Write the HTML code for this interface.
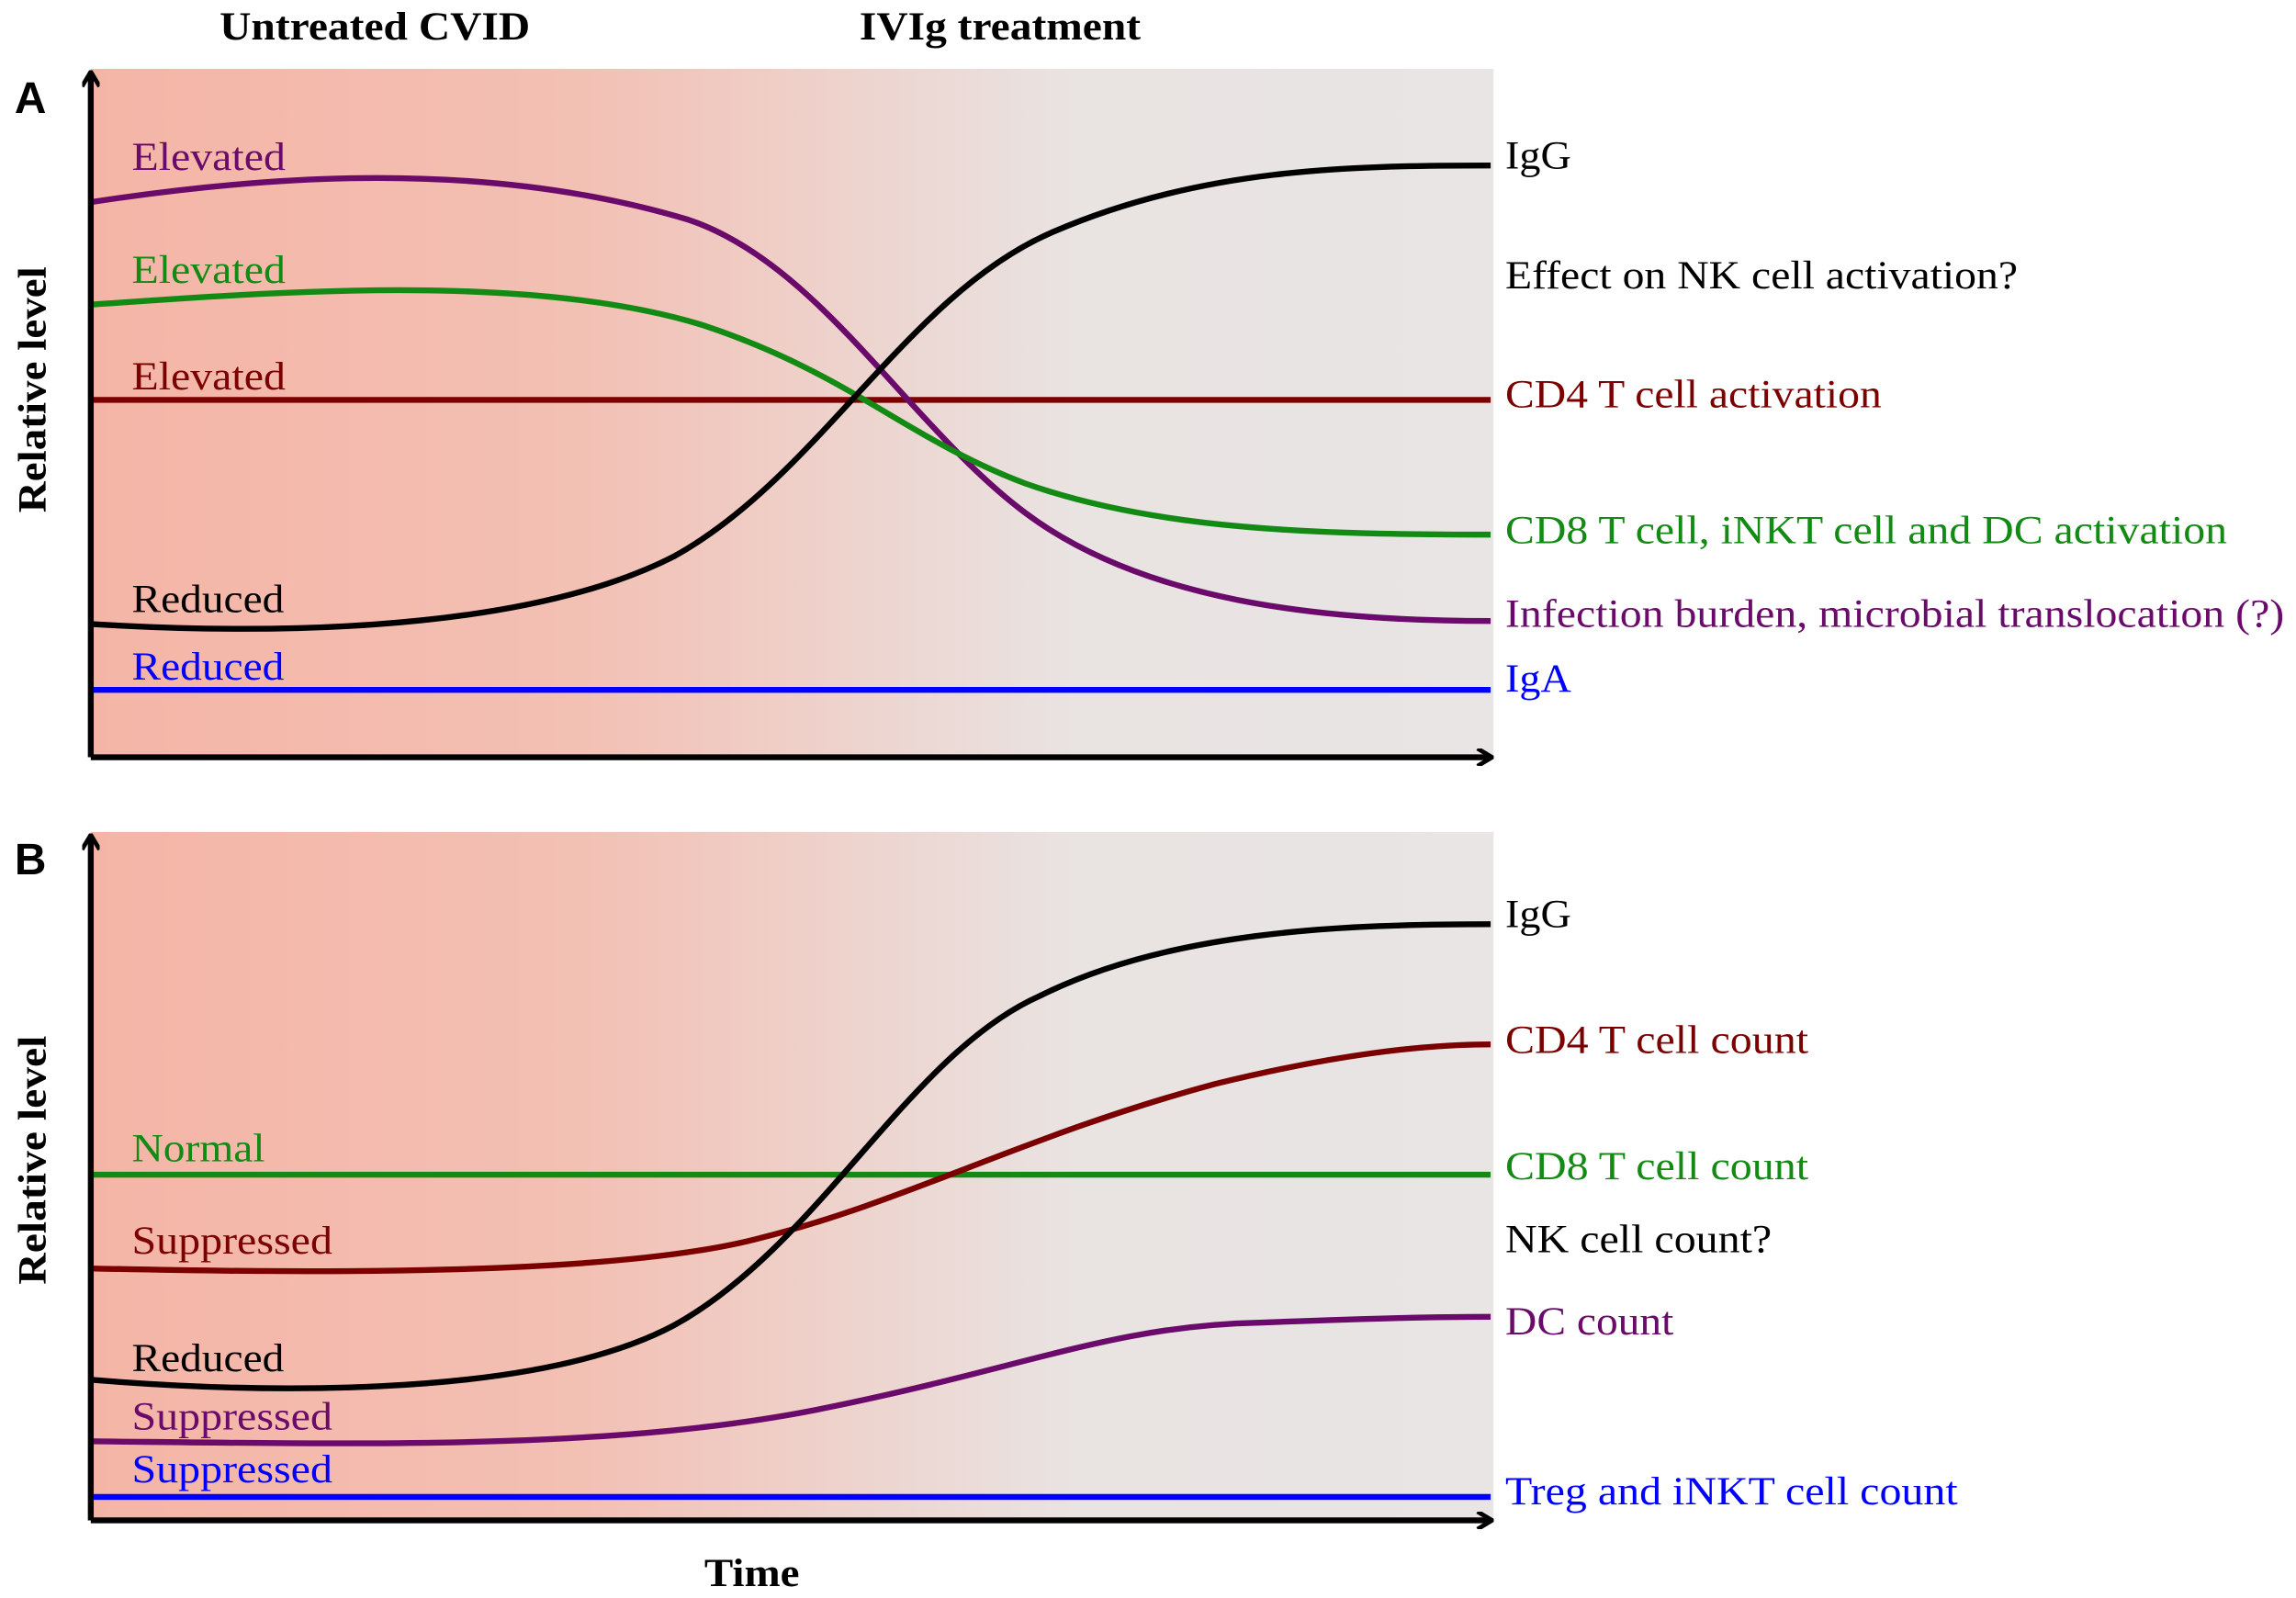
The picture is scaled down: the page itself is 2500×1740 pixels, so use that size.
<!DOCTYPE html>
<html><head><meta charset="utf-8"><style>
html,body{margin:0;padding:0;background:#fff;}
svg{display:block;}
text{font-family:"Liberation Serif",serif;font-size:27px;}
</style></head><body>
<svg width="2500" height="1740" viewBox="0 0 1568 1091" preserveAspectRatio="none" xmlns="http://www.w3.org/2000/svg">
<defs>
<linearGradient id="g" x1="62" x2="1020" y1="0" y2="0" gradientUnits="userSpaceOnUse">
<stop offset="0" stop-color="#f4b5a6"/>
<stop offset="0.35" stop-color="#f3c0b4"/>
<stop offset="0.7" stop-color="#e9e3e2"/>
<stop offset="1" stop-color="#e8e5e4"/>
</linearGradient>
<marker id="ar" markerWidth="12" markerHeight="12" refX="10" refY="6" orient="auto" markerUnits="userSpaceOnUse" viewBox="0 0 12 12">
<path d="M1,0 L11,6 L1,12" fill="none" stroke="#000" stroke-width="3"/>
</marker>
</defs>
<rect width="1568" height="1091" fill="#fff"/>
<rect x="62" y="47" width="958" height="470" fill="url(#g)"/>
<rect x="62" y="568" width="958" height="470" fill="url(#g)"/>

<g lengthAdjust="spacingAndGlyphs">
<text x="150" y="27" font-weight="bold" textLength="212" lengthAdjust="spacingAndGlyphs">Untreated CVID</text>
<text x="587" y="27" font-weight="bold" textLength="192" lengthAdjust="spacingAndGlyphs">IVIg treatment</text>
<text x="481" y="1083" font-weight="bold" textLength="65" lengthAdjust="spacingAndGlyphs">Time</text>
</g>
<text x="10" y="77" style="font-family:'Liberation Sans',sans-serif;font-weight:bold;font-size:30px">A</text>
<text x="10" y="597" style="font-family:'Liberation Sans',sans-serif;font-weight:bold;font-size:30px">B</text>
<text transform="translate(31,350) rotate(-90)" font-weight="bold" textLength="168" lengthAdjust="spacingAndGlyphs">Relative level</text>
<text transform="translate(31,877) rotate(-90)" font-weight="bold" textLength="170" lengthAdjust="spacingAndGlyphs">Relative level</text>

<g fill="none" stroke-width="4">
<path d="M62,273 H1018" stroke="#7b0000"/>
<path d="M62,471 H1018" stroke="#0000ff"/>
<path d="M62,138 C180,120 330,108 470,150 C560,180 620,290 700,350 C780,410 900,424 1018,424" stroke="#6a0a6a"/>
<path d="M62,208 C180,200 360,185 480,222 C580,255 620,300 700,330 C790,362 900,365 1018,365" stroke="#138a13"/>
<path d="M62,426 C160,432 350,436 460,380 C560,325 620,200 720,158 C820,115 920,113 1018,113" stroke="#000"/>
<path d="M62,802 H1018" stroke="#138a13"/>
<path d="M62,1022 H1018" stroke="#0000ff"/>
<path d="M62,984 C250,986 420,990 560,962 C700,934 760,905 860,903 C940,900 980,899 1018,899" stroke="#6a0a6a"/>
<path d="M62,866 C200,869 420,872 520,845 C620,820 700,775 830,740 C920,718 980,713 1018,713" stroke="#7b0000"/>
<path d="M62,942 C160,950 360,958 460,905 C560,850 620,720 710,680 C800,635 920,631 1018,631" stroke="#000"/>
</g>

<g stroke="#000" stroke-width="4" fill="none">
<path d="M62,517 V50" marker-end="url(#ar)"/>
<path d="M62,517 H1018" marker-end="url(#ar)"/>
<path d="M62,1038 V571" marker-end="url(#ar)"/>
<path d="M62,1038 H1018" marker-end="url(#ar)"/>
</g>

<text x="90" y="116" fill="#6a0a6a" textLength="105" lengthAdjust="spacingAndGlyphs">Elevated</text>
<text x="90" y="193" fill="#138a13" textLength="105" lengthAdjust="spacingAndGlyphs">Elevated</text>
<text x="90" y="266" fill="#7b0000" textLength="105" lengthAdjust="spacingAndGlyphs">Elevated</text>
<text x="90" y="418" fill="#000" textLength="104" lengthAdjust="spacingAndGlyphs">Reduced</text>
<text x="90" y="464" fill="#0000ff" textLength="104" lengthAdjust="spacingAndGlyphs">Reduced</text>
<text x="1028" y="115" fill="#000" textLength="45" lengthAdjust="spacingAndGlyphs">IgG</text>
<text x="1028" y="197" fill="#000" textLength="350" lengthAdjust="spacingAndGlyphs">Effect on NK cell activation?</text>
<text x="1028" y="278" fill="#7b0000" textLength="257" lengthAdjust="spacingAndGlyphs">CD4 T cell activation</text>
<text x="1028" y="371" fill="#138a13" textLength="493" lengthAdjust="spacingAndGlyphs">CD8 T cell, iNKT cell and DC activation</text>
<text x="1028" y="428" fill="#6a0a6a" textLength="532" lengthAdjust="spacingAndGlyphs">Infection burden, microbial translocation (?)</text>
<text x="1028" y="472" fill="#0000ff" textLength="45" lengthAdjust="spacingAndGlyphs">IgA</text>
<text x="90" y="793" fill="#138a13" textLength="91" lengthAdjust="spacingAndGlyphs">Normal</text>
<text x="90" y="856" fill="#7b0000" textLength="137" lengthAdjust="spacingAndGlyphs">Suppressed</text>
<text x="90" y="936" fill="#000" textLength="104" lengthAdjust="spacingAndGlyphs">Reduced</text>
<text x="90" y="976" fill="#6a0a6a" textLength="137" lengthAdjust="spacingAndGlyphs">Suppressed</text>
<text x="90" y="1012" fill="#0000ff" textLength="137" lengthAdjust="spacingAndGlyphs">Suppressed</text>
<text x="1028" y="633" fill="#000" textLength="45" lengthAdjust="spacingAndGlyphs">IgG</text>
<text x="1028" y="719" fill="#7b0000" textLength="207" lengthAdjust="spacingAndGlyphs">CD4 T cell count</text>
<text x="1028" y="805" fill="#138a13" textLength="207" lengthAdjust="spacingAndGlyphs">CD8 T cell count</text>
<text x="1028" y="855" fill="#000" textLength="182" lengthAdjust="spacingAndGlyphs">NK cell count?</text>
<text x="1028" y="911" fill="#6a0a6a" textLength="115" lengthAdjust="spacingAndGlyphs">DC count</text>
<text x="1028" y="1027" fill="#0000ff" textLength="309" lengthAdjust="spacingAndGlyphs">Treg and iNKT cell count</text>
</svg>
</body></html>
